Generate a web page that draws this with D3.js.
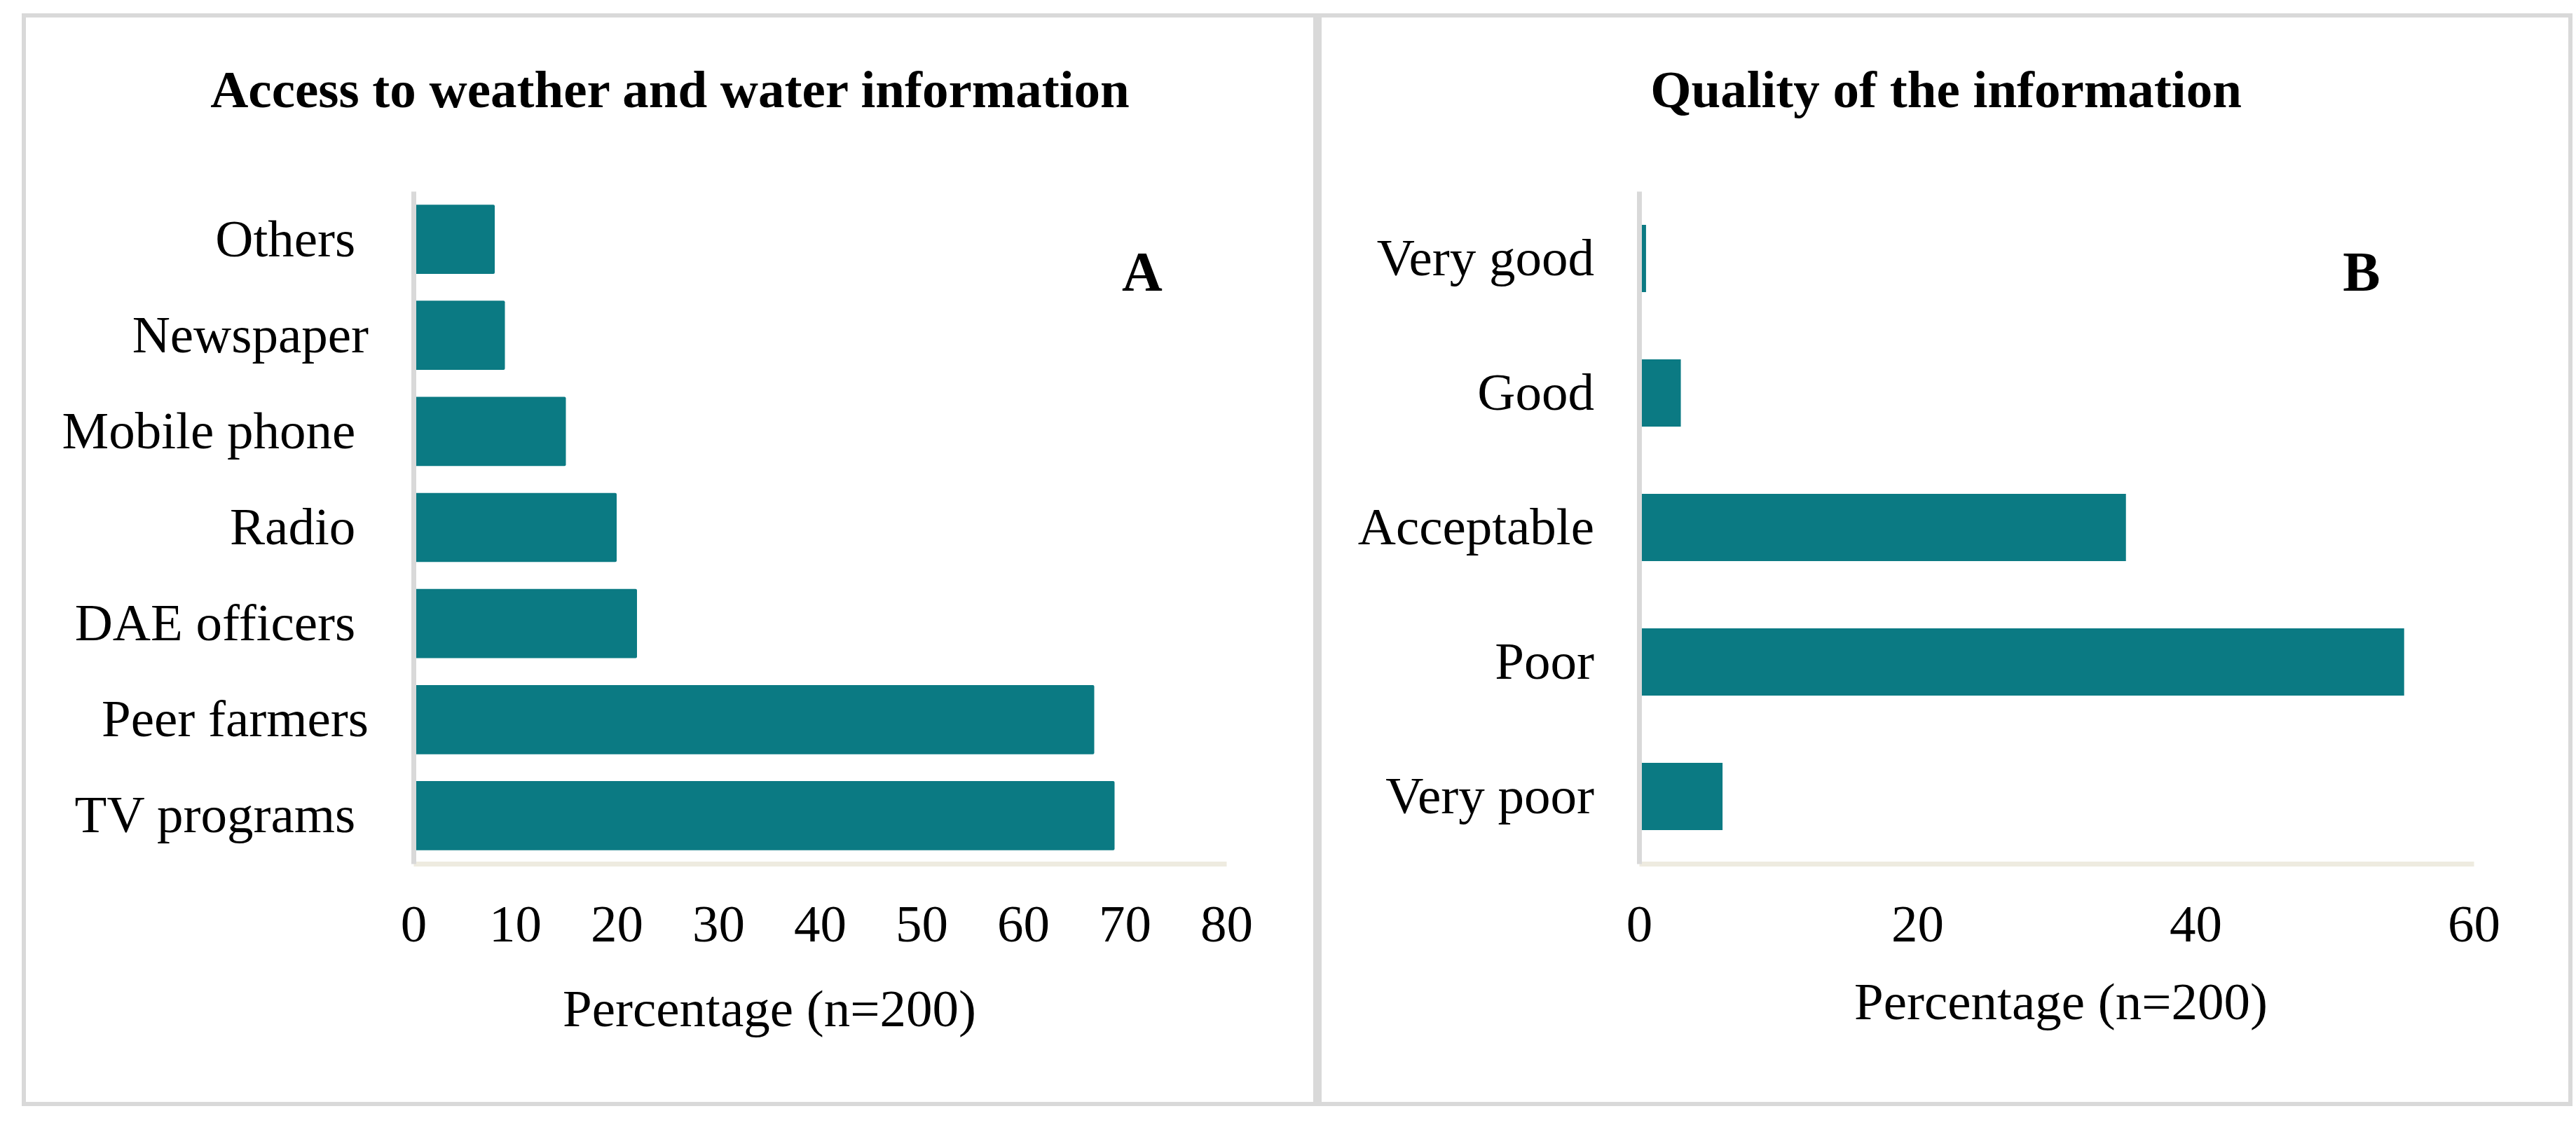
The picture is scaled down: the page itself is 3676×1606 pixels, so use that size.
<!DOCTYPE html>
<html>
<head>
<meta charset="utf-8">
<script src="https://cdn.jsdelivr.net/npm/d3@7"></script>
<style>
  html, body { margin: 0; padding: 0; background: #ffffff; }
  svg { display: block; }
  text { font-family: "Liberation Serif", "Times New Roman", serif; fill: #000; }
</style>
</head>
<body>
<script>
// ---- Data ----
const accessTitle = "Access to weather and water information";
const accessCategories = ["Others ", "Newspaper", "Mobile phone ", "Radio ", "DAE officers ", "Peer farmers", "TV programs "];
const accessValues = [8, 9, 15, 20, 22, 67, 69];
const accessTicks = [0, 10, 20, 30, 40, 50, 60, 70, 80];

const qualityTitle = "Quality of the information";
const qualityCategories = ["Very good", "Good", "Acceptable", "Poor", "Very poor"];
const qualityValues = [0.5, 3, 35, 55, 6];
const qualityTicks = [0, 20, 40, 60];

const axisTitle = "Percentage (n=200)";

// ---- Layout ----
const W = 3676, H = 1606;
const barColor = "#0b7a83";
const borderColor = "#d9d9d9";

const svg = d3.select("body").append("svg")
  .attr("width", W).attr("height", H);

// panel borders
svg.append("rect").attr("x", 34).attr("y", 22).attr("width", 1843).attr("height", 1554)
  .attr("fill", "none").attr("stroke", borderColor).attr("stroke-width", 6);
svg.append("rect").attr("x", 1883).attr("y", 22).attr("width", 1785).attr("height", 1554)
  .attr("fill", "none").attr("stroke", borderColor).attr("stroke-width", 6);

const panels = [
  { title: accessTitle, titleX: 956, cats: accessCategories, vals: accessValues, ticks: accessTicks,
    x0: 590, x1: 1750, pInner: 0.28, pOuter: 0.14, letter: "A", letterX: 1630,
    axisTitleX: 1098, axisTitleY: 1465, rx: 2 },
  { title: qualityTitle, titleX: 2777, cats: qualityCategories, vals: qualityValues, ticks: qualityTicks,
    x0: 2339, x1: 3530, pInner: 0.5, pOuter: 0.25, letter: "B", letterX: 3370,
    axisTitleX: 2941, axisTitleY: 1455, rx: 0 }
];

const yTop = 273, yBottom = 1233;

panels.forEach(p => {
  const x = d3.scaleLinear()
    .domain([p.ticks[0], p.ticks[p.ticks.length - 1]])
    .range([p.x0, p.x1]);
  const y = d3.scaleBand()
    .domain(p.cats)
    .range([yTop, yBottom])
    .paddingInner(p.pInner)
    .paddingOuter(p.pOuter);

  // title
  svg.append("text")
    .attr("x", p.titleX).attr("y", 153)
    .attr("text-anchor", "middle")
    .attr("font-size", 75).attr("font-weight", "bold")
    .text(p.title);

  // bars
  const data = p.cats.map((c, i) => ({ c, v: p.vals[i] }));
  svg.append("g").selectAll("rect").data(data).join("rect")
    .attr("x", x(0))
    .attr("y", d => y(d.c))
    .attr("width", d => x(d.v) - x(0))
    .attr("height", y.bandwidth())
    .attr("rx", p.rx)
    .attr("fill", barColor);

  // bottom axis
  const gx = svg.append("g")
    .attr("transform", `translate(0,${yBottom})`)
    .call(d3.axisBottom(x).tickValues(p.ticks).tickSize(0).tickPadding(58).tickFormat(d3.format("d")));
  gx.select(".domain").attr("stroke", "#eeebe0").attr("stroke-width", 7);
  gx.selectAll(".tick text")
    .attr("font-size", 75)
    .style("font-family", "'Liberation Serif', 'Times New Roman', serif")
    .attr("fill", "#000");

  // left axis
  const gy = svg.append("g")
    .attr("transform", `translate(${p.x0},0)`)
    .call(d3.axisLeft(y).tickSize(0).tickPadding(64));
  gy.select(".domain").attr("stroke", borderColor).attr("stroke-width", 7);
  gy.selectAll(".tick text")
    .attr("font-size", 75)
    .style("font-family", "'Liberation Serif', 'Times New Roman', serif")
    .style("white-space", "pre")
    .attr("fill", "#000");

  // panel letter
  svg.append("text")
    .attr("x", p.letterX).attr("y", 415)
    .attr("text-anchor", "middle")
    .attr("font-size", 80).attr("font-weight", "bold")
    .text(p.letter);

  // axis title
  svg.append("text")
    .attr("x", p.axisTitleX).attr("y", p.axisTitleY)
    .attr("text-anchor", "middle")
    .attr("font-size", 75)
    .text(axisTitle);
});
</script>
</body>
</html>
